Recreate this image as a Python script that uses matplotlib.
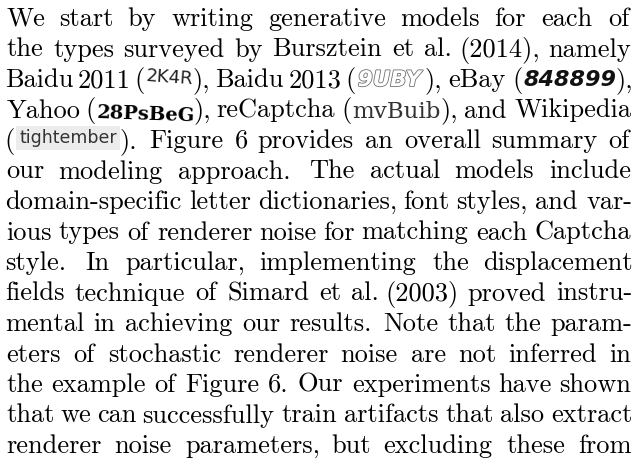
import re
import numpy as np
import matplotlib
matplotlib.use("Agg")
import matplotlib.pyplot as plt
from matplotlib import patheffects
from matplotlib.transforms import IdentityTransform

# paragraph text, one entry per printed line
# {key} marks an inline captcha sample, ~ is a fixed (unstretched) space
lines = [
    "We start by writing generative models for each of",
    "the types surveyed by Bursztein et al. (2014), namely",
    "Baidu~2011 ({baidu11}), Baidu~2013 ({baidu13}), eBay ({ebay}),",
    "Yahoo ({yahoo}), reCaptcha ({recap}), and Wikipedia",
    "({wiki}). Figure 6 provides an overall summary of",
    "our modeling approach. The actual models include",
    "domain-specific letter dictionaries, font styles, and var-",
    "ious types of renderer noise for matching each Captcha",
    "style. In particular, implementing the displacement",
    "fields technique of Simard et al. (2003) proved instru-",
    "mental in achieving our results. Note that the param-",
    "eters of stochastic renderer noise are not inferred in",
    "the example of Figure 6. Our experiments have shown",
    "that we can successfully train artifacts that also extract",
    "renderer noise parameters, but excluding these from",
]

# the captcha pictures, kept as text
captchas = {
    "baidu11": "2K4R",
    "baidu13": "9UBY",
    "ebay": "848899",
    "yahoo": "28PsBeG",
    "recap": "mvBuib",
    "wiki": "tightember",
}

W, H = 637, 462
LEFT, RIGHT = 7, 631
TOP = 26          # first baseline, px from top
LEAD = 30.5       # baseline skip, px
FS = 19.0         # body size, pt
TIE = 6.0         # fixed space width, px
PAD = 2.0         # ink gap between text and picture inside a word

body = dict(family="cmr10", size=FS, color="black")
cap_styles = {
    "baidu11": dict(family="DejaVu Sans", size=13, color="#222222", rotation=-4),
    "baidu13": dict(family="DejaVu Sans", size=15.5, weight="bold", style="italic", color="white",
                    path_effects=[patheffects.withStroke(linewidth=1.2, foreground="#707070")]),
    "ebay": dict(family="DejaVu Sans", size=16, weight="bold", style="italic", color="#111111"),
    "yahoo": dict(family="DejaVu Serif", size=14, weight="bold", color="black", rotation=-2),
    "recap": dict(family="DejaVu Serif", size=16.5, color="#333333"),
    "wiki": dict(family="DejaVu Sans", size=12.5, color="#333333",
                 bbox=dict(boxstyle="square,pad=0.2", fc="#ececec", ec="none")),
}
cap_raise = {"baidu11": 6, "baidu13": 1, "ebay": 1, "yahoo": 0, "recap": 0, "wiki": 5}
cap_margin = {"wiki": 3}   # extra room for the grey box

ident = IdentityTransform()


def style_of(seg):
    if seg.startswith("{"):
        key = seg[1:-1]
        return captchas[key], cap_styles[key], cap_raise[key], cap_margin.get(key, 0)
    return seg, body, 0, 0


def ink(s, kw):
    # left ink offset from the anchor and ink width, measured on a scratch canvas
    f = plt.figure(figsize=(6, 1), dpi=100)
    f.text(40, 40, s, transform=ident, va="baseline", rotation_mode="anchor", **kw)
    f.canvas.draw()
    a = np.asarray(f.canvas.buffer_rgba())[..., :3].min(axis=2)
    cols = np.where((a < 210).any(axis=0))[0]
    plt.close(f)
    return cols[0] - 40, cols[-1] + 1 - cols[0]


fig = plt.figure(figsize=(W / 100, H / 100), dpi=100)

for i, line in enumerate(lines):
    y = H - (TOP + i * LEAD)
    words = []
    for word in line.split(" "):
        parts = []
        for k, tied in enumerate(word.split("~")):
            segs = [s for s in re.split(r"(\{\w+\})", tied) if s]
            for j, s in enumerate(segs):
                txt, kw, dy, m = style_of(s)
                off, w = ink(txt, kw)
                gap = TIE if (k > 0 and j == 0) else (PAD if j > 0 else 0)
                parts.append((txt, kw, dy, off, w + 2 * m, m, gap))
        words.append((word, parts))

    total = sum(p[4] + p[6] for _, parts in words for p in parts)
    weights = [1.35 if (wd.endswith(".") and wd != "al.") else 1.0 for wd, _ in words[:-1]]
    unit = (RIGHT - LEFT - total) / sum(weights)

    x = LEFT
    for n, (wd, parts) in enumerate(words):
        for txt, kw, dy, off, w, m, g in parts:
            x += g
            fig.text(x + m - off, y + dy, txt, transform=ident, va="baseline",
                     rotation_mode="anchor", **kw)
            x += w
        if n < len(weights):
            x += unit * weights[n]

fig.savefig("out.png", dpi=100, facecolor="white")
